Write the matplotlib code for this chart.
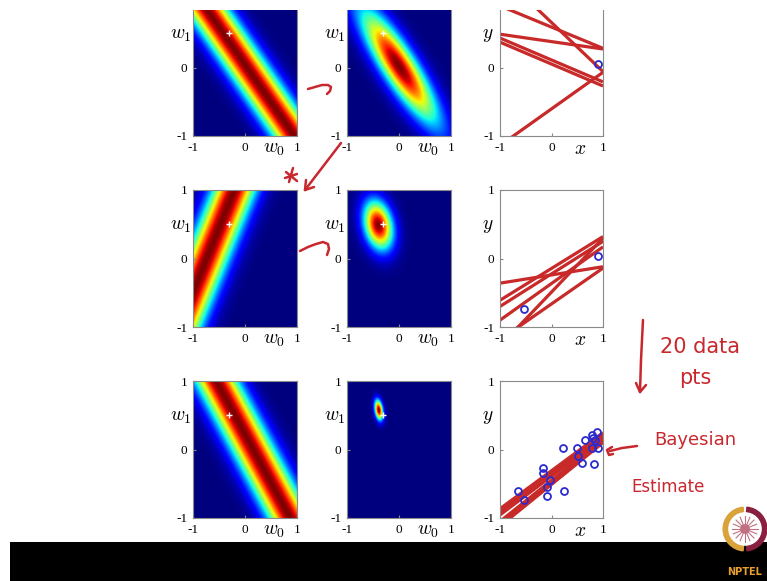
import numpy as np
import matplotlib.pyplot as plt
from matplotlib.patches import Rectangle, Wedge, Circle
from matplotlib.lines import Line2D

plt.rcParams['font.family'] = 'serif'
plt.rcParams['font.serif'] = ['Liberation Serif', 'DejaVu Serif']
plt.rcParams['mathtext.fontset'] = 'cm'
plt.rcParams['axes.unicode_minus'] = False

W, H = 767, 581

# ---- values ----
true_w0, true_w1 = -0.3, 0.5          # white cross

# latest observation in each row (likelihood ridge), noise precision
like_x = [0.91, -0.53, 0.71]
like_t = [0.04, -0.74, 0.16]
beta = 12.0

# posterior gaussians in the middle column
post_m0 = [0.0, -0.40, -0.39]
post_m1 = [0.02, 0.49, 0.58]
post_s0 = [0.50, 0.19, 0.055]
post_s1 = [0.56, 0.24, 0.10]
post_rho = [-0.86, -0.25, -0.30]

# sampled lines in data space: intercept w0, slope w1
row1_w0 = [0.59, 0.378, 0.657, 0.11, 0.05, -0.604]
row1_w1 = [-0.31, -0.108, -0.717, -0.32, -0.32, 0.534]
row2_w0 = [-0.24, -0.145, -0.225, -0.365, -0.663, -0.49]
row2_w1 = [0.12, 0.465, 0.475, 0.535, 0.523, 0.787]
row3_w0 = [-0.31, -0.35, -0.39, -0.45, -0.48, -0.51]
row3_w1 = [0.555, 0.56, 0.565, 0.60, 0.605, 0.61]

# observed points
row1_x = [0.91]
row1_y = [0.047]
row2_x = [0.91, -0.528]
row2_y = [0.036, -0.742]
row3_x = [-0.644, -0.528, -0.171, -0.171, -0.029, -0.094, -0.081, 0.23, 0.243, 0.489,
          0.521, 0.586, 0.65, 0.793, 0.877, 0.845, 0.793, 0.909, 0.831, 0.81]
row3_y = [-0.606, -0.742, -0.265, -0.348, -0.445, -0.543, -0.674, 0.026, -0.606, 0.026,
          -0.095, -0.202, 0.139, 0.212, 0.251, 0.139, 0.026, 0.026, -0.216, 0.17]

lines_w0 = [row1_w0, row2_w0, row3_w0]
lines_w1 = [row1_w1, row2_w1, row3_w1]
pts_x = [row1_x, row2_x, row3_x]
pts_y = [row1_y, row2_y, row3_y]

# ---- layout (pixels) ----
col_left = [193, 347, 500]
row_top = [-1, 190, 381]
ax_w, ax_h = 104, 137

RED = '#c82a2a'
INK = '#c8282d'

fig = plt.figure(figsize=(W / 100, H / 100), dpi=100)
fig.patch.set_facecolor('white')


def px_axes(left, top, w, h):
    return fig.add_axes([left / W, 1 - (top + h) / H, w / W, h / H])


def fig_xy(pts):
    xs = [p[0] / W for p in pts]
    ys = [1 - p[1] / H for p in pts]
    return xs, ys


g = np.linspace(-1, 1, 220)
G0, G1 = np.meshgrid(g, g)


def style_axes(ax, xl, yl, first_row):
    ax.set_xlim(-1, 1)
    ax.set_ylim(-1, 1)
    ax.set_xticks([-1, 0, 1])
    ax.set_yticks([-1, 0, 1])
    ax.set_xticklabels(['-1', '0', '1'])
    # the top label of the first row is cropped away in the frame
    ax.set_yticklabels(['-1', '0', '' if first_row else '1'])
    ax.tick_params(direction='in', length=2, labelsize=9.5, pad=4,
                   color='#888888')
    for s in ax.spines.values():
        s.set_color('#8a8a8a')
        s.set_linewidth(0.8)
    ax.text(-1.24, 0.47, yl, fontsize=14, ha='center', va='center')
    ax.text(0.55, -1.2, xl, fontsize=14, ha='center', va='center')


for r in range(3):
    top = row_top[r]

    # likelihood of the newest point
    ax1 = px_axes(col_left[0], top, ax_w, ax_h)
    z = np.exp(-0.5 * beta * (like_t[r] - G0 - G1 * like_x[r]) ** 2)
    ax1.imshow(z / z.max(), extent=[-1, 1, -1, 1], origin='lower',
               cmap='jet', vmin=0, vmax=1, aspect='auto', interpolation='bilinear')
    ax1.plot(true_w0, true_w1, '+', color='white', ms=5, mew=1)
    style_axes(ax1, '$w_0$', '$w_1$', r == 0)

    # posterior
    ax2 = px_axes(col_left[1], top, ax_w, ax_h)
    d0 = (G0 - post_m0[r]) / post_s0[r]
    d1 = (G1 - post_m1[r]) / post_s1[r]
    rho = post_rho[r]
    q = (d0 ** 2 - 2 * rho * d0 * d1 + d1 ** 2) / (1 - rho ** 2)
    z = np.exp(-0.5 * q)
    ax2.imshow(z / z.max(), extent=[-1, 1, -1, 1], origin='lower',
               cmap='jet', vmin=0, vmax=1, aspect='auto', interpolation='bilinear')
    ax2.plot(true_w0, true_w1, '+', color='white', ms=5, mew=1)
    style_axes(ax2, '$w_0$', '$w_1$', r == 0)

    # data space
    ax3 = px_axes(col_left[2], top, 103, ax_h)
    xx = np.array([-1.0, 1.0])
    for a, b in zip(lines_w0[r], lines_w1[r]):
        ax3.plot(xx, a + b * xx, color=RED, lw=2.3, solid_capstyle='butt')
    ax3.plot(pts_x[r], pts_y[r], 'o', mfc='none', mec='#2a2ad0', ms=5, mew=1.3)
    style_axes(ax3, '$x$', '$y$', r == 0)

# white strip across the very top (frame crop)
fig.add_artist(Rectangle((0, 1 - 10 / H), 1, 10 / H, transform=fig.transFigure,
                         facecolor='white', edgecolor='none', zorder=10))

# ---- handwritten red annotations ----
strokes = [
    [(308, 89), (315, 87), (322, 85), (328, 85), (331, 87), (330, 91), (327, 94)],
    [(300, 251), (308, 247), (316, 244), (323, 242), (328, 244), (329, 249), (327, 255)],
    [(341, 143), (305, 190)],
    [(305, 190), (306, 180)],
    [(305, 190), (314, 187)],
    [(286, 172), (297, 181)],
    [(289, 182), (293, 168)],
    [(285, 178), (297, 174)],
    [(643, 320), (641, 360), (640, 392)],
    [(640, 392), (636, 383)],
    [(640, 392), (646, 385)],
    [(637, 446), (622, 448), (610, 451)],
    [(612, 447), (607, 450), (609, 455), (613, 454)],
]
for s in strokes:
    xs, ys = fig_xy(s)
    fig.add_artist(Line2D(xs, ys, color=INK, lw=1.8, transform=fig.transFigure,
                          solid_capstyle='round', zorder=11))

hand = dict(color=INK, family='DejaVu Sans', transform=fig.transFigure,
            ha='center', va='center', zorder=11)
fig.text(700 / W, 1 - 347 / H, '20 data', fontsize=15, **hand)
fig.text(695 / W, 1 - 378 / H, 'pts', fontsize=15, **hand)
fig.text(695 / W, 1 - 440 / H, 'Bayesian', fontsize=13, **hand)
fig.text(668 / W, 1 - 487 / H, 'Estimate', fontsize=12, **hand)

# ---- black bar and logo ----
fig.add_artist(Rectangle((10 / W, 0), 1, 39 / H, transform=fig.transFigure,
                         facecolor='black', edgecolor='none', zorder=12))

axl = fig.add_axes([722 / W, 1 - 552 / H, 46 / W, 46 / H])
axl.set_xlim(-1, 1)
axl.set_ylim(-1, 1)
axl.set_aspect('equal')
axl.axis('off')
axl.set_zorder(13)
axl.add_patch(Wedge((0, 0), 0.95, 95, 265, width=0.22, color='#d9a23a'))
axl.add_patch(Wedge((0, 0), 0.95, 275, 85, width=0.22, color='#8a2040'))
axl.add_patch(Circle((0, 0), 0.7, color='white'))
for ang in np.arange(0, 180, 22.5):
    t = np.deg2rad(ang)
    axl.plot([-0.55 * np.cos(t), 0.55 * np.cos(t)], [-0.55 * np.sin(t), 0.55 * np.sin(t)],
             color='#c07080', lw=0.8)
axl.add_patch(Circle((0, 0), 0.18, color='#c07080'))
fig.text(745 / W, 1 - 572 / H, 'NPTEL', fontsize=7, color='#e8a030',
         family='DejaVu Sans', weight='bold', ha='center', va='center', zorder=14)

fig.savefig('out.png', dpi=100)
